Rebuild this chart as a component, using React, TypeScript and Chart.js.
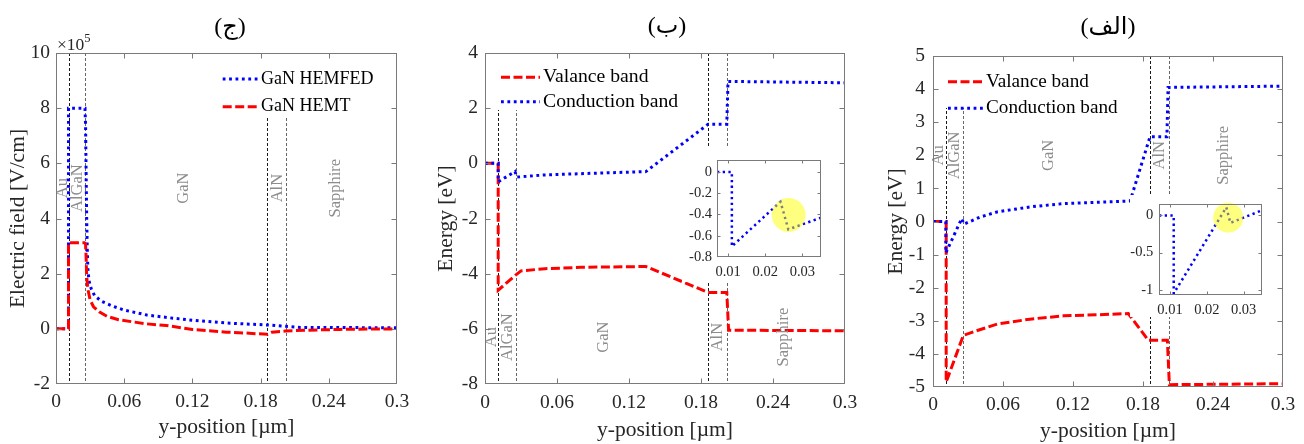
import React, { useEffect, useRef } from 'react';
import { Chart, registerables } from 'chart.js';
Chart.register(...registerables);

const SERIF = '"Liberation Serif", "Times New Roman", Times, serif';
const TITLE_FAMILY = '"Liberation Serif", "DejaVu Sans", serif';
const TEXT = '#262626';
const BLUE = '#0000ff';
const RED = '#ff0000';
const DOT = [2.8, 3.6];
const DASH = [9, 3.5];

// ---------------- shared axis data ----------------
const xTicks = [0, 0.06, 0.12, 0.18, 0.24, 0.3];
const xTickLabels = ['0', '0.06', '0.12', '0.18', '0.24', '0.3'];
const layerBounds = [0.011, 0.0255, 0.186, 0.202];
const layerNames = ['Au', 'AlGaN', 'GaN', 'AlN', 'Sapphire'];

// ---------------- panel (ج): electric field, x10^5 V/cm ----------------
const fieldYTicks = [-2, 0, 2, 4, 6, 8, 10];
const fieldYTickLabels = ['-2', '0', '2', '4', '6', '8', '10'];
const fieldX_HEMFED = [0, 0.011, 0.011, 0.0255, 0.026, 0.0265, 0.027, 0.0275, 0.028, 0.029, 0.031, 0.034, 0.04, 0.05, 0.06, 0.08, 0.1, 0.12, 0.15, 0.186, 0.202, 0.215, 0.3];
const fieldY_HEMFED = [0, 0, 8, 8, 7.4, 5.6, 4.0, 2.9, 2.2, 1.75, 1.45, 1.2, 1.0, 0.82, 0.68, 0.5, 0.4, 0.31, 0.21, 0.14, 0.09, 0.05, 0.04];
const fieldX_HEMT = [0, 0.011, 0.011, 0.025, 0.026, 0.0265, 0.027, 0.028, 0.03, 0.033, 0.038, 0.045, 0.055, 0.068, 0.08, 0.097, 0.12, 0.15, 0.17, 0.186, 0.19, 0.202, 0.22, 0.25, 0.3];
const fieldY_HEMT = [0, 0, 3.12, 3.12, 3.08, 2.6, 1.9, 1.45, 1.05, 0.8, 0.62, 0.45, 0.33, 0.25, 0.18, 0.12, -0.02, -0.12, -0.16, -0.2, -0.12, -0.08, -0.05, -0.02, 0];
const layerPosJ = [0.0062, 0.019, 0.112, 0.195, 0.246];
const layerLevelJ = 5.1;

// ---------------- panel (ب): bands ----------------
const bandYTicksB = [-8, -6, -4, -2, 0, 2, 4];
const bandYTickLabelsB = ['-8', '-6', '-4', '-2', '0', '2', '4'];
const condX_B = [0, 0.011, 0.011, 0.025, 0.0265, 0.05, 0.09, 0.134, 0.186, 0.2015, 0.2025, 0.3];
const condY_B = [0, 0, -0.67, -0.3, -0.5, -0.42, -0.36, -0.3, 1.42, 1.42, 2.97, 2.92];
const valX_B = [0, 0.011, 0.011, 0.0255, 0.03, 0.05, 0.08, 0.134, 0.186, 0.2015, 0.203, 0.3];
const valY_B = [0, 0, -4.6, -4.05, -3.9, -3.82, -3.77, -3.74, -4.68, -4.68, -6.05, -6.07];
const layerPosB = [0.0056, 0.0186, 0.0986, 0.194, 0.2486];
const layerLevelB = -6.3;
const insetTicksXB = [0.01, 0.02, 0.03];
const insetTickLabelsXB = ['0.01', '0.02', '0.03'];
const insetTicksYB = [-0.8, -0.6, -0.4, -0.2, 0];
const insetTickLabelsYB = ['-0.8', '-0.6', '-0.4', '-0.2', '0'];
const insetX_B = [0.007, 0.011, 0.011, 0.0241, 0.0262, 0.035];
const insetY_B = [0, 0, -0.7, -0.28, -0.54, -0.43];

// ---------------- panel (الف): bands ----------------
const bandYTicksA = [-5, -4, -3, -2, -1, 0, 1, 2, 3, 4, 5];
const bandYTickLabelsA = ['-5', '-4', '-3', '-2', '-1', '0', '1', '2', '3', '4', '5'];
const condX_A = [0, 0.011, 0.011, 0.0246, 0.0266, 0.04, 0.055, 0.083, 0.112, 0.14, 0.169, 0.186, 0.2005, 0.2015, 0.3];
const condY_A = [0, 0, -0.95, 0.09, -0.08, 0.13, 0.29, 0.44, 0.54, 0.58, 0.62, 2.56, 2.56, 4.05, 4.09];
const valX_A = [0, 0.0113, 0.0113, 0.026, 0.04, 0.055, 0.083, 0.112, 0.14, 0.1674, 0.1846, 0.2009, 0.2026, 0.3];
const valY_A = [0, 0, -4.85, -3.44, -3.27, -3.1, -2.95, -2.85, -2.82, -2.78, -3.59, -3.59, -4.93, -4.9];
const layerPosA = [0.0046, 0.0189, 0.0994, 0.194, 0.249];
const layerLevelA = 2.0;
const insetTicksXA = [0.01, 0.02, 0.03];
const insetTickLabelsXA = ['0.01', '0.02', '0.03'];
const insetTicksYA = [-1, -0.5, 0];
const insetTickLabelsYA = ['-1', '-0.5', '0'];
const insetX_A = [0.007, 0.011, 0.011, 0.0253, 0.0264, 0.035];
const insetY_A = [0, 0, -1.05, 0.11, -0.1, 0.07];

// ---------------- helpers ----------------
const zip = (xs: number[], ys: number[]) => xs.map((x, i) => ({ x, y: ys[i] }));

interface DecorCfg {
  ox: number;
  oy: number;
  tickLen: number;
  vlines?: { x: number; color: string }[];
  labels?: { text: string; x: number; y: number }[];
  legend?: { box: number[]; x0: number; x1: number; tx: number; font: string; entries: { ds: number; text: string; y: number }[] };
  title?: { text: string; x: number; y: number };
  mult?: { x: number; y: number };
  circle?: { x: number; y: number; r: number };
}

function makeDecor(cfg: DecorCfg) {
  return {
    id: 'decor',
    beforeDatasetsDraw(chart: any) {
      const { ctx, chartArea: a, scales } = chart;
      if (!cfg.vlines) return;
      ctx.save();
      ctx.lineWidth = 1;
      ctx.setLineDash([3, 2]);
      for (const v of cfg.vlines) {
        const px = Math.round(scales.x.getPixelForValue(v.x)) + 0.5;
        ctx.strokeStyle = v.color;
        ctx.beginPath();
        ctx.moveTo(px, a.top);
        ctx.lineTo(px, a.bottom);
        ctx.stroke();
      }
      ctx.restore();
    },
    afterDatasetsDraw(chart: any) {
      const { ctx, chartArea: a, scales } = chart;
      const xs = scales.x;
      const ys = scales.y;
      ctx.save();
      if (cfg.circle) {
        ctx.fillStyle = 'rgba(255,255,0,0.5)';
        ctx.beginPath();
        ctx.arc(xs.getPixelForValue(cfg.circle.x), ys.getPixelForValue(cfg.circle.y), cfg.circle.r, 0, Math.PI * 2);
        ctx.fill();
      }
      if (cfg.labels) {
        ctx.fillStyle = '#8c8c8c';
        ctx.font = `16.5px ${SERIF}`;
        ctx.textAlign = 'center';
        ctx.textBaseline = 'middle';
        for (const l of cfg.labels) {
          ctx.save();
          ctx.translate(xs.getPixelForValue(l.x), ys.getPixelForValue(l.y));
          ctx.rotate(-Math.PI / 2);
          ctx.fillText(l.text, 0, 0);
          ctx.restore();
        }
      }
      if (cfg.legend) {
        const L = cfg.legend;
        ctx.fillStyle = '#ffffff';
        ctx.fillRect(L.box[0] - cfg.ox, L.box[1] - cfg.oy, L.box[2], L.box[3]);
        for (const e of L.entries) {
          const ds = chart.data.datasets[e.ds];
          const y = e.y - cfg.oy;
          ctx.save();
          ctx.strokeStyle = ds.borderColor;
          ctx.lineWidth = ds.borderWidth;
          ctx.setLineDash(ds.borderDash);
          ctx.beginPath();
          ctx.moveTo(L.x0 - cfg.ox, y);
          ctx.lineTo(L.x1 - cfg.ox, y);
          ctx.stroke();
          ctx.restore();
          ctx.fillStyle = '#000';
          ctx.font = L.font;
          ctx.textAlign = 'left';
          ctx.textBaseline = 'middle';
          ctx.fillText(e.text, L.tx - cfg.ox, y);
        }
      }
      // axes box with inward ticks
      ctx.setLineDash([]);
      ctx.strokeStyle = '#7a7a7a';
      ctx.lineWidth = 1;
      const l = Math.round(a.left) + 0.5;
      const r = Math.round(a.right) - 0.5;
      const t = Math.round(a.top) + 0.5;
      const b = Math.round(a.bottom) - 0.5;
      ctx.strokeRect(l, t, r - l, b - t);
      ctx.beginPath();
      for (const tk of xs.ticks) {
        const px = Math.round(xs.getPixelForValue(tk.value)) + 0.5;
        if (px <= l + 1 || px >= r - 1) continue;
        ctx.moveTo(px, b);
        ctx.lineTo(px, b - cfg.tickLen);
        ctx.moveTo(px, t);
        ctx.lineTo(px, t + cfg.tickLen);
      }
      for (const tk of ys.ticks) {
        const py = Math.round(ys.getPixelForValue(tk.value)) + 0.5;
        if (py <= t + 1 || py >= b - 1) continue;
        ctx.moveTo(l, py);
        ctx.lineTo(l + cfg.tickLen, py);
        ctx.moveTo(r, py);
        ctx.lineTo(r - cfg.tickLen, py);
      }
      ctx.stroke();
      if (cfg.title) {
        ctx.fillStyle = '#000';
        ctx.font = `24px ${TITLE_FAMILY}`;
        ctx.textAlign = 'center';
        ctx.textBaseline = 'alphabetic';
        ctx.fillText(cfg.title.text, cfg.title.x - cfg.ox, cfg.title.y - cfg.oy);
      }
      if (cfg.mult) {
        ctx.fillStyle = TEXT;
        ctx.textAlign = 'left';
        ctx.textBaseline = 'alphabetic';
        ctx.font = `17.5px ${SERIF}`;
        const s = '\u00d710';
        ctx.fillText(s, cfg.mult.x - cfg.ox, cfg.mult.y - cfg.oy);
        const w = ctx.measureText(s).width;
        ctx.font = `12.5px ${SERIF}`;
        ctx.fillText('5', cfg.mult.x - cfg.ox + w, cfg.mult.y - cfg.oy - 8);
      }
      ctx.restore();
    },
  };
}

function linScale(o: {
  min: number; max: number; ticks: number[]; labels: string[]; size: number; lineHeight?: number;
  pad: number; fit: number; horiz: boolean; title?: string; titlePad?: any;
}) {
  return {
    type: 'linear',
    min: o.min,
    max: o.max,
    afterBuildTicks: (s: any) => { s.ticks = o.ticks.map((v) => ({ value: v })); },
    afterFit: (s: any) => { if (o.horiz) s.height = o.fit; else s.width = o.fit; },
    ticks: {
      autoSkip: false, maxRotation: 0, minRotation: 0, padding: o.pad, color: TEXT,
      font: { family: SERIF, size: o.size, lineHeight: o.lineHeight ?? 1.2 },
      callback: (_v: any, i: number) => o.labels[i],
    },
    grid: { display: false, drawTicks: false },
    border: { display: false },
    title: o.title
      ? { display: true, text: o.title, color: TEXT, font: { family: SERIF, size: 21.5, lineHeight: 1.2 }, padding: o.titlePad }
      : { display: false },
  };
}

const lineDs = (xs: number[], ys: number[], color: string, dash: number[], width: number) => ({
  data: zip(xs, ys), borderColor: color, borderWidth: width, borderDash: dash, borderCapStyle: 'butt',
  pointRadius: 0, tension: 0, fill: false,
});

function baseOptions(padding: any, scales: any) {
  return {
    responsive: false, animation: false, events: [],
    layout: { padding },
    plugins: { legend: { display: false }, tooltip: { enabled: false }, title: { display: false } },
    scales,
  };
}

const vlineSet = (xs: number[]) => xs.map((x, i) => ({ x, color: i % 2 === 0 ? '#1a1a1a' : '#666666' }));
const labelSet = (pos: number[], level: number) => pos.map((x, i) => ({ text: layerNames[i], x, y: level }));

// ---------------- chart configs ----------------
function configJ() {
  return {
    type: 'line',
    data: { datasets: [lineDs(fieldX_HEMT, fieldY_HEMT, RED, DASH, 3), lineDs(fieldX_HEMFED, fieldY_HEMFED, BLUE, DOT, 3)] },
    options: baseOptions({ left: 0, right: 23, top: 53, bottom: 0 }, {
      x: linScale({ min: 0, max: 0.3, ticks: xTicks, labels: xTickLabels, size: 19.5, pad: 6, fit: 60, horiz: true, title: 'y-position [µm]', titlePad: { top: 0, bottom: 3.4 } }),
      y: linScale({ min: -2, max: 10, ticks: fieldYTicks, labels: fieldYTickLabels, size: 19.5, pad: 6, fit: 56, horiz: false, title: 'Electric field [V/cm]', titlePad: { top: 5, bottom: 0 } }),
    }),
    plugins: [makeDecor({
      ox: 0, oy: 0, tickLen: 5,
      vlines: vlineSet(layerBounds),
      labels: labelSet(layerPosJ, layerLevelJ),
      legend: { box: [214, 54, 182, 63], x0: 222.7, x1: 259.3, tx: 261, font: `18px ${SERIF}`, entries: [{ ds: 1, text: 'GaN HEMFED', y: 79 }, { ds: 0, text: 'GaN HEMT', y: 106.7 }] },
      title: { text: '(ج)', x: 230, y: 34 },
      mult: { x: 57, y: 50 },
    })],
  };
}

function configB() {
  return {
    type: 'line',
    data: { datasets: [lineDs(condX_B, condY_B, BLUE, DOT, 3), lineDs(valX_B, valY_B, RED, DASH, 3)] },
    options: baseOptions({ left: 0, right: 25, top: 53, bottom: 0 }, {
      x: linScale({ min: 0, max: 0.3, ticks: xTicks, labels: xTickLabels, size: 19.5, pad: 7, fit: 60, horiz: true, title: 'y-position [µm]', titlePad: { top: 0, bottom: 1 } }),
      y: linScale({ min: -8, max: 4, ticks: bandYTicksB, labels: bandYTickLabelsB, size: 19.5, pad: 7, fit: 65, horiz: false, title: 'Energy [eV]', titlePad: { top: 13, bottom: 0 } }),
    }),
    plugins: [makeDecor({
      ox: 420, oy: 0, tickLen: 5,
      vlines: vlineSet(layerBounds),
      labels: labelSet(layerPosB, layerLevelB),
      legend: { box: [486, 54, 194, 56], x0: 501, x1: 540, tx: 543, font: `19.7px ${SERIF}`, entries: [{ ds: 1, text: 'Valance band', y: 77.3 }, { ds: 0, text: 'Conduction band', y: 101.7 }] },
      title: { text: '(ب)', x: 667, y: 33 },
    })],
  };
}

function configA() {
  return {
    type: 'line',
    data: { datasets: [lineDs(condX_A, condY_A, BLUE, DOT, 3), lineDs(valX_A, valY_A, RED, DASH, 3)] },
    options: baseOptions({ left: 0, right: 21, top: 56, bottom: 0 }, {
      x: linScale({ min: 0, max: 0.3, ticks: xTicks, labels: xTickLabels, size: 19.5, pad: 6, fit: 57, horiz: true, title: 'y-position [µm]', titlePad: { top: 0, bottom: 0 } }),
      y: linScale({ min: -5, max: 5, ticks: bandYTicksA, labels: bandYTickLabelsA, size: 19.5, pad: 8, fit: 63, horiz: false, title: 'Energy [eV]', titlePad: { top: 13, bottom: 0 } }),
    }),
    plugins: [makeDecor({
      ox: 870, oy: 0, tickLen: 5,
      vlines: vlineSet(layerBounds),
      labels: labelSet(layerPosA, layerLevelA),
      legend: { box: [934, 57, 186, 51], x0: 948, x1: 985, tx: 986, font: `19.2px ${SERIF}`, entries: [{ ds: 1, text: 'Valance band', y: 81.7 }, { ds: 0, text: 'Conduction band', y: 108.3 }] },
      title: { text: '(الف)', x: 1108, y: 34 },
    })],
  };
}

function configInsetB() {
  return {
    type: 'line',
    data: { datasets: [lineDs(insetX_B, insetY_B, BLUE, [2.3, 3.4], 2.5)] },
    options: baseOptions({ left: 0, right: 9, top: 10, bottom: 0 }, {
      x: linScale({ min: 0.007, max: 0.035, ticks: insetTicksXB, labels: insetTickLabelsXB, size: 14.5, pad: 6, fit: 25, horiz: true }),
      y: linScale({ min: -0.8, max: 0.11, ticks: insetTicksYB, labels: insetTickLabelsYB, size: 14.5, lineHeight: 1.0, pad: 5, fit: 35, horiz: false }),
    }),
    plugins: [makeDecor({ ox: 682, oy: 148, tickLen: 3, circle: { x: 0.0263, y: -0.405, r: 17 } })],
  };
}

function configInsetA() {
  return {
    type: 'line',
    data: { datasets: [lineDs(insetX_A, insetY_A, BLUE, [2.3, 3.4], 2.5)] },
    options: baseOptions({ left: 0, right: 8, top: 3, bottom: 0 }, {
      x: linScale({ min: 0.007, max: 0.035, ticks: insetTicksXA, labels: insetTickLabelsXA, size: 14.5, pad: 6, fit: 22, horiz: true }),
      y: linScale({ min: -1.07, max: 0.16, ticks: insetTicksYA, labels: insetTickLabelsYA, size: 14.5, lineHeight: 0.4, pad: 5.7, fit: 29, horiz: false }),
    }),
    plugins: [makeDecor({ ox: 1130, oy: 195, tickLen: 3, circle: { x: 0.0258, y: -0.03, r: 15 } })],
  };
}

function ChartCanvas(props: { left: number; top: number; width: number; height: number; make: () => any; bg?: string }) {
  const ref = useRef<HTMLCanvasElement>(null);
  useEffect(() => {
    const chart = new Chart(ref.current as HTMLCanvasElement, props.make());
    return () => chart.destroy();
  }, []);
  return (
    <canvas
      ref={ref}
      width={props.width}
      height={props.height}
      style={{ position: 'absolute', left: props.left, top: props.top, width: props.width, height: props.height, background: props.bg ?? 'transparent' }}
    />
  );
}

export default function App() {
  return (
    <div style={{ position: 'absolute', left: 0, top: 0, width: 1304, height: 444, background: '#fff', overflow: 'hidden' }}>
      <ChartCanvas left={0} top={0} width={420} height={444} make={configJ} />
      <ChartCanvas left={420} top={0} width={450} height={444} make={configB} />
      <ChartCanvas left={870} top={0} width={434} height={444} make={configA} />
      <ChartCanvas left={682} top={148} width={148} height={134} make={configInsetB} bg="#fff" />
      <ChartCanvas left={1130} top={195} width={140} height={122} make={configInsetA} bg="#fff" />
    </div>
  );
}
